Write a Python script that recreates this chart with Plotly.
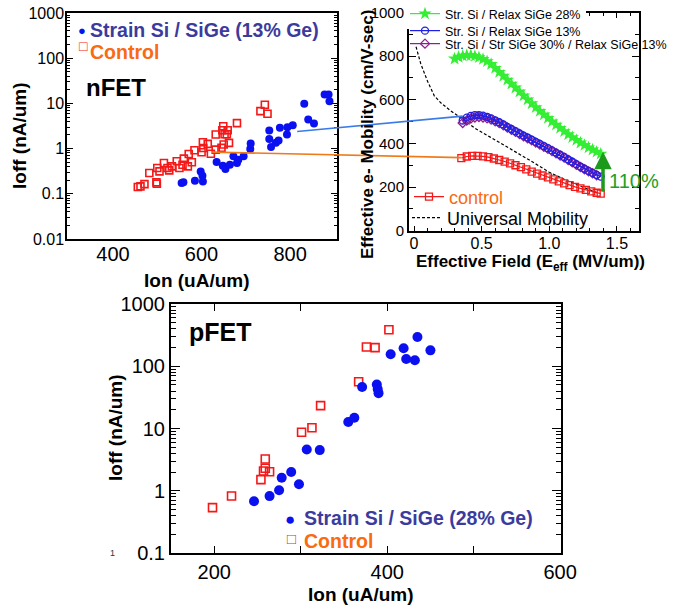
import math
import plotly.graph_objects as go

W, H = 675, 607
FONT = "Liberation Sans, Arial, sans-serif"

# ---------------- nFET data (Ion uA/um, Ioff nA/um) ----------------
n_ctl_ion = [456, 462, 471, 482, 498, 499, 500, 505, 515, 523, 527, 533, 544, 550, 557, 560,
             569, 571, 578, 584, 600, 603, 604, 614, 621, 632, 632, 645, 647, 649, 650, 652,
             657, 659, 662, 680, 733, 743, 749]
n_ctl_ioff = [0.141, 0.146, 0.164, 0.288, 0.179, 0.167, 0.372, 0.313, 0.48, 0.372, 0.33, 0.404,
              0.523, 0.372, 0.44, 0.6, 0.404, 0.76, 0.497, 0.92, 0.83, 1.38, 1.03, 1.27, 0.77,
              2.05, 0.95, 1.04, 2.55, 3.13, 1.23, 2.08, 2.08, 2.55, 1.34, 3.66, 6.75, 9.3, 5.9]
n_ss_ion = [555, 559, 585, 598, 602, 603, 634, 648, 654, 664, 672, 680, 683, 695, 710, 711,
            753, 753, 757, 768, 774, 777, 793, 794, 806, 832, 841, 854, 878, 887, 889]
n_ss_ioff = [0.173, 0.179, 0.195, 0.313, 0.251, 0.188, 0.506, 0.419, 0.353, 0.44, 0.675, 0.48,
             0.57, 0.675, 0.98, 1.29, 2.51, 1.64, 1.09, 1.34, 1.51, 2.88, 2.05, 2.98, 3.3, 9.8,
             4.4, 3.6, 15.8, 15.8, 11.2]

# ---------------- pFET data ----------------
p_ss_ion = [246, 264, 275, 278, 289, 298, 307, 322, 355, 362, 371, 388, 389, 390, 404, 419, 422, 432, 435, 450]
p_ss_ioff = [0.68, 0.82, 1.02, 1.62, 2.0, 1.27, 4.6, 4.5, 12.7, 14.9, 46.5, 51, 43, 37, 156, 194, 131, 125, 295, 180]
p_ctl_ion = [198, 220, 254, 257, 259, 259, 264, 301, 313, 323, 367, 376, 386, 402]
p_ctl_ioff = [0.535, 0.824, 1.51, 2.08, 2.3, 3.24, 2.02, 8.7, 10.3, 23.3, 56.5, 204, 199, 386]

# ---------------- Mobility data (Eeff MV/um, cm2/V-s) ----------------
E_green = [0.30, 0.33, 0.36, 0.39, 0.42, 0.45, 0.48, 0.51, 0.54, 0.57, 0.60, 0.63, 0.66, 0.69,
           0.72, 0.75, 0.78, 0.81, 0.84, 0.87, 0.90, 0.93, 0.96, 0.99, 1.02, 1.05, 1.08, 1.11,
           1.14, 1.17, 1.20, 1.23, 1.26, 1.29, 1.32, 1.35, 1.38]
mu_green = [788, 796, 801, 804, 804, 800, 794, 786, 776, 763, 745, 727, 709, 691, 673, 655, 637,
            619, 601, 583, 565, 548, 532, 516, 500, 485, 470, 455, 441, 428, 415, 403, 392, 381,
            371, 361, 352]
E_blue = [0.36, 0.39, 0.42, 0.45, 0.48, 0.51, 0.54, 0.57, 0.60, 0.63, 0.66, 0.69, 0.72, 0.75,
          0.78, 0.81, 0.84, 0.87, 0.90, 0.93, 0.96, 0.99, 1.02, 1.05, 1.08, 1.11, 1.14, 1.17,
          1.20, 1.23, 1.26, 1.29, 1.32, 1.35, 1.38]
mu_blue = [505, 518, 526, 530, 530, 527, 522, 515, 506, 497, 487, 476, 466, 456, 446, 436, 427,
           417, 407, 398, 388, 378, 368, 358, 348, 338, 327, 316, 305, 294, 284, 274, 265, 256, 248]
E_purple = [0.36, 0.39, 0.42, 0.45, 0.48, 0.51, 0.54, 0.57, 0.60, 0.63, 0.66, 0.69, 0.72, 0.75,
            0.78, 0.81, 0.84, 0.87, 0.90, 0.93, 0.96, 0.99, 1.02, 1.05, 1.08, 1.11, 1.14, 1.17,
            1.20, 1.23, 1.26, 1.29, 1.32, 1.35]
mu_purple = [494, 505, 514, 519, 521, 519, 515, 509, 501, 493, 483, 473, 463, 453, 443, 433, 424,
             414, 404, 395, 385, 375, 365, 355, 345, 335, 324, 313, 302, 292, 282, 272, 263, 254]
E_ctrl = [0.35, 0.39, 0.43, 0.47, 0.51, 0.55, 0.59, 0.63, 0.67, 0.71, 0.75, 0.79, 0.83, 0.87,
          0.91, 0.95, 0.99, 1.03, 1.07, 1.11, 1.15, 1.19, 1.23, 1.27, 1.31, 1.35, 1.38]
mu_ctrl = [333, 340, 343, 343, 341, 337, 331, 324, 317, 309, 300, 291, 281, 271, 262, 253, 244,
           235, 226, 217, 209, 201, 194, 187, 180, 174, 170]
E_univ = [0.015, 0.05, 0.10, 0.15, 0.20, 0.27, 0.35, 0.45, 0.56, 0.70, 0.85, 1.00, 1.13, 1.25, 1.36]
mu_univ = [843, 765, 685, 618, 585, 550, 515, 470, 430, 380, 325, 268, 230, 200, 172]

# arrow (110 % enhancement) and connector anchor values
arrow_E = 1.397
arrow_from, arrow_to = 172, 362
conn_blue_n = (816, 2.39)     # nFET (Ion, Ioff)
conn_blue_m = (0.36, 525)     # mobility (E, mu)
conn_org_n = (624, 0.836)
conn_org_m = (0.35, 335)

# ---------------- layout geometry ----------------
def dom_x(a, b):
    return [a / W, b / W]

def dom_y(top, bottom):
    return [1 - bottom / H, 1 - top / H]

N_XD, N_YD = dom_x(67, 337), dom_y(13, 239)
M_XD, M_YD = dom_x(409, 639), dom_y(12.5, 230.7)
P_XD, P_YD = dom_x(171, 561), dom_y(304, 553)
N_XR, N_YR = [296, 906], [-2, 3]
M_XR, M_YR = [-0.037, 1.663], [0, 1000]
P_XR, P_YR = [150, 601], [-1, 3]


def to_paper(v, dom, rng, log=False):
    if log:
        v = math.log10(v)
    return dom[0] + (v - rng[0]) / (rng[1] - rng[0]) * (dom[1] - dom[0])


fig = go.Figure()

BLUE = "#0A10F0"
RED = "#F41818"
TXT_BLUE = "#3B3B9E"
ORANGE = "#F96A12"

# nFET
fig.add_trace(go.Scatter(x=n_ctl_ion, y=n_ctl_ioff, mode="markers", xaxis="x", yaxis="y",
                         marker=dict(symbol="square-open", size=7, color=RED, line=dict(width=1.6)),
                         showlegend=False))
fig.add_trace(go.Scatter(x=n_ss_ion, y=n_ss_ioff, mode="markers", xaxis="x", yaxis="y",
                         marker=dict(symbol="circle", size=8, color=BLUE), showlegend=False))
# pFET
fig.add_trace(go.Scatter(x=p_ctl_ion, y=p_ctl_ioff, mode="markers", xaxis="x3", yaxis="y3",
                         marker=dict(symbol="square-open", size=8, color=RED, line=dict(width=1.6)),
                         showlegend=False))
fig.add_trace(go.Scatter(x=p_ss_ion, y=p_ss_ioff, mode="markers", xaxis="x3", yaxis="y3",
                         marker=dict(symbol="circle", size=10, color=BLUE), showlegend=False))

# Mobility
fig.add_trace(go.Scatter(x=E_univ, y=mu_univ, mode="lines", xaxis="x2", yaxis="y2",
                         line=dict(color="black", width=1.2, dash="3px,2px"),
                         name="Universal Mobility", legend="legend5"))
fig.add_trace(go.Scatter(x=E_ctrl, y=mu_ctrl, mode="lines+markers", xaxis="x2", yaxis="y2",
                         line=dict(color=RED, width=1.2),
                         marker=dict(symbol="square-open", size=7, color=RED, line=dict(width=1.3)),
                         name="<span style='color:%s'>control</span>" % ORANGE, legend="legend4"))
fig.add_trace(go.Scatter(x=E_purple, y=mu_purple, mode="lines+markers", xaxis="x2", yaxis="y2",
                         line=dict(color="#8E1E8E", width=1.2),
                         marker=dict(symbol="diamond-open", size=7, color="#8E1E8E", line=dict(width=1.3)),
                         name="Str. Si / Str SiGe 30% / Relax SiGe 13%", legend="legend3"))
fig.add_trace(go.Scatter(x=E_blue, y=mu_blue, mode="lines+markers", xaxis="x2", yaxis="y2",
                         line=dict(color="#1E1EE6", width=1.2),
                         marker=dict(symbol="circle-open", size=7, color="#1E1EE6", line=dict(width=1.3)),
                         name="Str. Si / Relax SiGe 13%", legend="legend2"))
fig.add_trace(go.Scatter(x=E_green, y=mu_green, mode="lines+markers", xaxis="x2", yaxis="y2",
                         line=dict(color="#33EE33", width=1.2),
                         marker=dict(symbol="star", size=10, color="#33EE33"),
                         name="Str. Si / Relax SiGe 28%", legend="legend"))

tick_font = lambda s: dict(family=FONT, size=s, color="black")
base = dict(showline=True, linecolor="black", showgrid=False, zeroline=False, tickcolor="black",
            ticks="inside", mirror="ticks")

log_vals_n = [0.01, 0.1, 1, 10, 100, 1000]
log_text_n = ["0.01", "0.1", "1", "10", "100", "1000"]
log_vals_p = [0.1, 1, 10, 100, 1000]
log_text_p = ["0.1", "1", "10", "100", "1000"]


def leg(xpx, ypx, size, bg="rgba(0,0,0,0)"):
    return dict(x=xpx / W, y=1 - ypx / H, xanchor="left", yanchor="middle",
                font=dict(family=FONT, size=size, color="black"), bgcolor=bg,
                borderwidth=0, itemwidth=30, tracegroupgap=0)


fig.update_layout(
    width=W, height=H, margin=dict(l=0, r=0, t=0, b=0, autoexpand=False),
    paper_bgcolor="white", plot_bgcolor="white",
    font=dict(family=FONT, color="black"),
    xaxis=dict(base, domain=N_XD, range=N_XR, tickvals=[400, 600, 800], ticks="", mirror=True,
               linewidth=1.5, tickfont=tick_font(20), anchor="y", ticklabelstandoff=-4),
    yaxis=dict(base, domain=N_YD, type="log", range=N_YR, tickvals=log_vals_n, ticktext=log_text_n,
               ticklen=6, linewidth=1.5, tickfont=tick_font(16), anchor="x", ticklabelstandoff=-2,
               minor=dict(ticks="inside", ticklen=3, dtick="D1", tickcolor="black")),
    xaxis2=dict(base, domain=M_XD, range=M_XR, tickvals=[0, 0.5, 1.0, 1.5],
                ticktext=["0", "0.5", "1.0", "1.5"], ticklen=5, linewidth=2,
                tickfont=tick_font(16), anchor="y2", ticklabelstandoff=-3,
                minor=dict(ticks="inside", ticklen=3, dtick=0.1, tickcolor="black")),
    yaxis2=dict(base, domain=M_YD, range=M_YR, dtick=200, ticklen=7, linewidth=2,
                tickfont=tick_font(15), anchor="x2",
                minor=dict(ticks="inside", ticklen=4, dtick=100, tickcolor="black")),
    xaxis3=dict(base, domain=P_XD, range=P_XR, tickvals=[200, 400, 600], ticklen=7, linewidth=2,
                tickfont=tick_font(20), anchor="y3",
                minor=dict(ticks="inside", ticklen=7, tick0=0, dtick=100, tickcolor="black")),
    yaxis3=dict(base, domain=P_YD, type="log", range=P_YR, tickvals=log_vals_p, ticktext=log_text_p,
                ticklen=9, linewidth=2, tickfont=tick_font(20), anchor="x3",
                minor=dict(ticks="inside", ticklen=5, dtick="D1", tickcolor="black")),
    legend=leg(405, 14, 12.5, "white"),
    legend2=leg(405, 31, 12.5),
    legend3=leg(405, 44, 12.5),
    legend4=leg(409, 197, 18),
    legend5=leg(407, 218, 18),
)

# connector lines between nFET and mobility panels
for n_pt, m_pt, col in [(conn_blue_n, conn_blue_m, "#3B7BE8"), (conn_org_n, conn_org_m, "#F07A1A")]:
    fig.add_shape(type="line", xref="paper", yref="paper",
                  x0=to_paper(n_pt[0], N_XD, N_XR), y0=to_paper(n_pt[1], N_YD, N_YR, log=True),
                  x1=to_paper(m_pt[0], M_XD, M_XR), y1=to_paper(m_pt[1], M_YD, M_YR),
                  line=dict(color=col, width=1.6))

# 110% arrow
fig.add_annotation(x=arrow_E, y=arrow_to, ax=arrow_E, ay=arrow_from, xref="x2", yref="y2",
                   axref="x2", ayref="y2", showarrow=True, arrowhead=2, arrowsize=1,
                   arrowwidth=3.5, arrowcolor="#1C9A1C", text="")
fig.add_annotation(x=1.43, y=227, xref="x2", yref="y2", text="110%", showarrow=False,
                   xanchor="left", yanchor="middle", font=dict(family=FONT, size=20, color="#22A022"))


def ann(text, xpx, ypx, size, color="black", bold=False, xanchor="left", angle=0):
    t = "<b>%s</b>" % text if bold else text
    fig.add_annotation(x=xpx / W, y=1 - ypx / H, xref="paper", yref="paper", text=t,
                       showarrow=False, xanchor=xanchor, yanchor="middle", textangle=angle,
                       font=dict(family=FONT, size=size, color=color))


# nFET labels
ann("●", 82, 30, 13, BLUE, xanchor="center")
ann("Strain Si / SiGe (13% Ge)", 88, 30, 19.5, TXT_BLUE, True)
ann("□", 83, 46, 14, RED, xanchor="center")
ann("Control", 88, 52, 19.5, ORANGE, True)
ann("nFET", 84, 88, 24, "black", True)
ann("Ioff (nA/um)", 20, 136, 19, "black", True, "center", -90)
ann("Ion (uA/um)", 197, 280, 19, "black", True, "center")

# mobility labels
ann("Effective e- Mobility (cm/V-sec)", 368, 135, 17, "black", True, "center", -90)
ann("Effective Field (E<sub>eff</sub> (MV/um))", 530, 263, 17, "black", True, "center")

# pFET labels
ann("pFET", 187, 332, 25, "black", True)
ann("●", 290, 519, 17, BLUE, xanchor="center")
ann("Strain Si / SiGe (28% Ge)", 302, 518, 19.5, TXT_BLUE, True)
ann("□", 291, 538, 15, RED, xanchor="center")
ann("Control", 302, 541, 19.5, ORANGE, True)
ann("Ioff (nA/um)", 115, 428, 19, "black", True, "center", -90)
ann("Ion (uA/um)", 361, 594, 19, "black", True, "center")
ann("1", 113, 553, 9, "#333333", xanchor="center")

fig.write_html("out.html")
